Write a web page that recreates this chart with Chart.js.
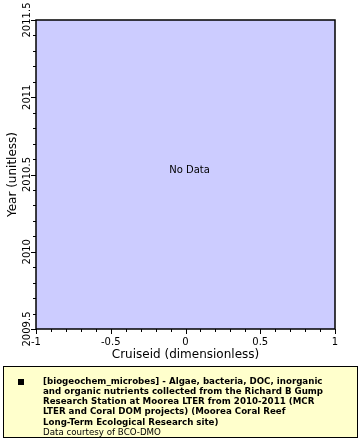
<!DOCTYPE html>
<html><head><meta charset="utf-8">
<script src="https://cdn.jsdelivr.net/npm/chart.js@4/dist/chart.umd.min.js"></script>
<style>html,body{margin:0;padding:0;background:#fff}canvas{display:block}</style>
</head><body>
<canvas id="c" width="360" height="440"></canvas>
<script>
// ---- data ----
const cruiseid = [];          // no data points
const year = [];
const xMin = -1, xMax = 1;
const yMin = 2009.5, yMax = 2011.5;
const majorStep = 0.5, minorStep = 0.1;
const xTickLabels = ['-1', '-0.5', '0', '0.5', '1'];
const yTickLabels = ['2009.5', '2010', '2010.5', '2011', '2011.5'];
const xTitle = 'Cruiseid (dimensionless)';
const yTitle = 'Year (unitless)';
const noDataText = 'No Data';
const legendLines = [
  '[biogeochem_microbes] - Algae, bacteria, DOC, inorganic',
  'and organic nutrients collected from the Richard B Gump',
  'Research Station at Moorea LTER from 2010-2011 (MCR',
  'LTER and Coral DOM projects) (Moorea Coral Reef',
  'Long-Term Ecological Research site)'
];
const sourceLine = 'Data courtesy of BCO-DMO';

const FONT = "'DejaVu Sans', sans-serif";

function majorIndex(v, min) {
  const k = (v - min) / majorStep;
  return Math.abs(k - Math.round(k)) < 1e-6 ? Math.round(k) : -1;
}

const deco = {
  id: 'deco',
  beforeDraw(chart) {
    const ctx = chart.ctx, a = chart.chartArea;
    ctx.save();
    ctx.fillStyle = '#fff';
    ctx.fillRect(0, 0, chart.width, chart.height);
    ctx.fillStyle = '#ccccff';
    ctx.fillRect(a.left, a.top, a.right - a.left, a.bottom - a.top);
    ctx.restore();
  },
  afterDraw(chart) {
    const ctx = chart.ctx, a = chart.chartArea;
    const xs = chart.scales.x, ys = chart.scales.y;
    ctx.save();
    ctx.strokeStyle = '#000';
    ctx.lineWidth = 1;
    // ticks
    ctx.beginPath();
    xs.ticks.forEach(t => {
      const px = Math.round(xs.getPixelForValue(t.value)) + 0.5;
      const len = majorIndex(t.value, xMin) >= 0 ? 5 : 3;
      ctx.moveTo(px, a.bottom); ctx.lineTo(px, a.bottom + len);
    });
    ys.ticks.forEach(t => {
      const py = Math.round(ys.getPixelForValue(t.value)) + 0.5;
      const len = majorIndex(t.value, yMin) >= 0 ? 5 : 3;
      ctx.moveTo(a.left, py); ctx.lineTo(a.left - len, py);
    });
    ctx.stroke();
    // y tick labels, rotated and centred on their ticks
    ctx.fillStyle = '#000';
    ctx.font = '10px ' + FONT;
    ctx.textAlign = 'center';
    ctx.textBaseline = 'middle';
    ys.ticks.forEach(t => {
      const k = majorIndex(t.value, yMin);
      if (k < 0) return;
      const py = ys.getPixelForValue(t.value);
      ctx.save();
      ctx.translate(a.left - 9, py);
      ctx.rotate(-Math.PI / 2);
      ctx.fillText(yTickLabels[k], 0, 0);
      ctx.restore();
    });
    // frame
    ctx.lineWidth = 1.5;
    ctx.strokeRect(Math.round(a.left), Math.round(a.top), Math.round(a.right - a.left), Math.round(a.bottom - a.top));
    // no data
    ctx.fillStyle = '#000';
    ctx.font = '10px ' + FONT;
    ctx.fillText(noDataText, (a.left + a.right) / 2 + 4, (a.top + a.bottom) / 2 - 4);
    // legend box
    const bx = 3.5, by = 366.5, bw = 354, bh = 71;
    ctx.fillStyle = '#ffffcc';
    ctx.fillRect(bx, by, bw, bh);
    ctx.lineWidth = 1;
    ctx.strokeStyle = '#000';
    ctx.strokeRect(bx, by, bw, bh);
    ctx.fillStyle = '#000';
    ctx.fillRect(18, 379, 6, 6);
    ctx.textAlign = 'left';
    ctx.font = 'bold 10px ' + FONT;
    const w0 = ctx.measureText(legendLines[0]).width;
    const fs = Math.max(7, Math.min(11, 10 * 280 / w0));
    ctx.font = 'bold ' + fs.toFixed(2) + 'px ' + FONT;
    const lh = 10.2;
    legendLines.forEach((s, i) => ctx.fillText(s, 43, 381.5 + i * lh));
    ctx.font = fs.toFixed(2) + 'px ' + FONT;
    ctx.fillText(sourceLine, 43, 381.5 + legendLines.length * lh);
    ctx.restore();
  }
};

new Chart(document.getElementById('c'), {
  type: 'scatter',
  data: { datasets: [{ data: cruiseid.map((x, i) => ({ x, y: year[i] })), pointRadius: 3 }] },
  options: {
    responsive: false, animation: false, devicePixelRatio: 1,
    layout: { padding: { top: 20, right: 25, bottom: 78, left: 0 } },
    plugins: { legend: { display: false }, tooltip: { enabled: false } },
    scales: {
      x: {
        type: 'linear', min: xMin, max: xMax,
        afterFit(s) { s.height = 33; },
        border: { display: false },
        grid: { drawOnChartArea: false, drawTicks: true, tickLength: 4, tickColor: 'rgba(0,0,0,0)' },
        ticks: {
          stepSize: minorStep, autoSkip: false, maxRotation: 0, padding: 3,
          color: '#000', font: { family: FONT, size: 10 },
          callback(v) { const k = majorIndex(v, xMin); return k >= 0 ? xTickLabels[k] : ''; }
        },
        title: { display: true, text: xTitle, color: '#000', font: { family: FONT, size: 12 }, padding: { top: 0, bottom: 0 } }
      },
      y: {
        type: 'linear', min: yMin, max: yMax,
        afterFit(s) { s.width = 36; },
        border: { display: false },
        grid: { drawOnChartArea: false, drawTicks: true, tickLength: 4, tickColor: 'rgba(0,0,0,0)' },
        ticks: {
          stepSize: minorStep, autoSkip: false, padding: 1,
          color: 'rgba(0,0,0,0)', font: { family: FONT, size: 10 },
          callback(v) { const k = majorIndex(v, yMin); return k >= 0 ? yTickLabels[k] : ''; }
        },
        title: { display: true, text: yTitle, color: '#000', font: { family: FONT, size: 12 }, padding: { top: 6, bottom: 0 } }
      }
    }
  },
  plugins: [deco]
});
</script>
</body></html>
